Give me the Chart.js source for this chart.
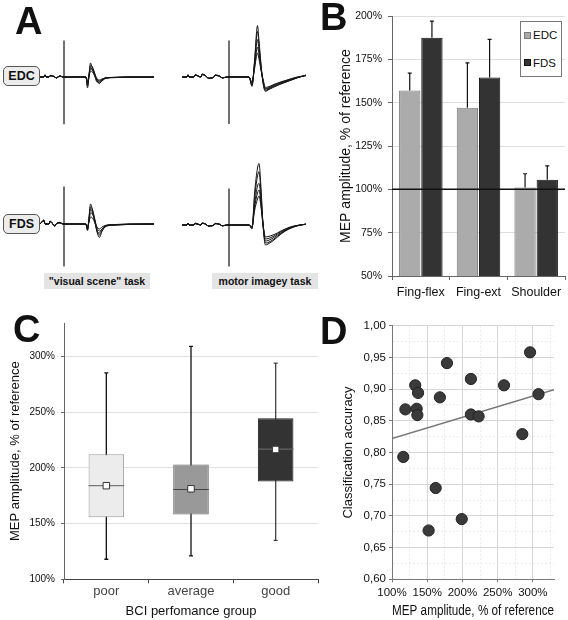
<!DOCTYPE html>
<html>
<head>
<meta charset="utf-8">
<title>MEP amplitude and BCI performance</title>
<script src="https://cdn.jsdelivr.net/npm/chart.js@4.4.1/dist/chart.umd.min.js"></script>
<style>
body { margin: 0; background: #fff; font-family: 'Liberation Sans', Arial, sans-serif; color: #111; }
#fig { position: relative; width: 568px; height: 620px; overflow: hidden; }
#fig canvas { position: absolute; }
.letter { position: absolute; font-weight: bold; font-size: 38px; line-height: 1; }
.muscle { position: absolute; left: 3px; width: 35px; height: 18px; border: 1px solid #555; border-radius: 5px;
  background: #ececec; font-weight: bold; font-size: 12.5px; display: flex; align-items: center; justify-content: center; }
.task { position: absolute; top: 273px; height: 16px; background: #e4e4e4; font-weight: bold; font-size: 10.5px;
  display: flex; align-items: center; justify-content: center; }
.leg { position: absolute; font-size: 11.5px; line-height: 14px; }
.sw { position: absolute; width: 5px; height: 5px; }
</style>
</head>
<body>
<div id="fig">
  <canvas id="edcVis" width="140" height="140" style="left:14px;top:7px"></canvas>
  <canvas id="edcMot" width="140" height="140" style="left:179px;top:7px"></canvas>
  <canvas id="fdsVis" width="140" height="140" style="left:14px;top:154px"></canvas>
  <canvas id="fdsMot" width="140" height="140" style="left:179px;top:155px"></canvas>
  <canvas id="chartB" width="278" height="310" style="left:290px;top:0px"></canvas>
  <canvas id="chartC" width="330" height="310" style="left:0px;top:310px"></canvas>
  <canvas id="chartD" width="278" height="310" style="left:290px;top:310px"></canvas>

  <div class="letter" style="left:15px;top:2px">A</div>
  <div class="letter" style="left:320px;top:-2px">B</div>
  <div class="letter" style="left:13px;top:310px">C</div>
  <div class="letter" style="left:320px;top:312px">D</div>

  <div class="muscle" style="top:66px">EDC</div>
  <div class="muscle" style="top:214px">FDS</div>
  <div class="task" style="left:44px;width:106px">"visual scene" task</div>
  <div class="task" style="left:212px;width:106px">motor imagey task</div>

  <div style="position:absolute;left:520px;top:21px;width:40px;height:54px;border:1px solid #777;background:#fff"></div>
  <div class="sw" style="left:524px;top:32px;background:#aaa;border:1px solid #777"></div>
  <div class="leg" style="left:533px;top:28px">EDC</div>
  <div class="sw" style="left:524px;top:59px;background:#333;border:1px solid #111"></div>
  <div class="leg" style="left:533px;top:56px">FDS</div>
</div>
<script>
// ---- panel A: overlaid MEP sweeps, time in ms from the TMS pulse, amplitude in mV
var tVisual = [-24, -20, -19, -18, -15, -14, -9, -8, -4, -1, 20, 22, 23.5, 25, 26.5, 28.5, 31, 33, 35.5, 38, 42, 50, 65, 92];
var edcVisual = [
  [0, 0, 0.12, 0, 0, 0.08, 0, -0.06, 0.06, 0, 0, 0, -0.55, 0.1, 0.7, 0.4, 0.05, -0.2, -0.33, -0.15, -0.05, -0.03, -0.01, 0],
  [0, 0, 0.1, 0, 0, 0.06, 0, -0.05, 0.05, 0, 0, 0, -0.45, 0.05, 0.6, 0.5, 0.15, -0.15, -0.3, -0.2, -0.06, -0.03, -0.01, 0],
  [0, 0, 0.08, 0, 0, 0.08, 0, -0.04, 0.05, 0, 0, -0.05, -0.3, 0.15, 0.5, 0.35, 0, -0.25, -0.25, -0.12, -0.04, -0.02, 0, 0],
  [0, 0, 0.1, 0, 0, 0.05, 0, -0.05, 0.04, 0, 0, 0, -0.4, 0, 0.4, 0.4, 0.1, -0.1, -0.2, -0.15, -0.05, -0.02, 0, 0],
  [0, 0, 0.08, 0, 0, 0.06, 0, -0.04, 0.05, 0, 0, 0, -0.2, 0.05, 0.3, 0.25, 0.05, -0.1, -0.15, -0.1, -0.04, -0.02, 0, 0]
];
var fdsVisual = [
  [0, 0.2, 0, 0, 0, 0.15, -0.12, 0, 0.08, 0, 0, 0, -0.33, 0.35, 1.0, 0.7, 0.1, -0.4, -0.67, -0.35, -0.12, -0.06, -0.02, 0],
  [0, 0.18, 0, 0, 0, 0.14, -0.1, 0, 0.06, 0, 0, 0, -0.25, 0.3, 0.85, 0.7, 0.2, -0.3, -0.55, -0.35, -0.1, -0.05, -0.02, 0],
  [0, 0.16, 0, 0, 0, 0.12, -0.08, 0, 0.08, 0, 0, -0.05, -0.3, 0.2, 0.75, 0.55, 0.05, -0.35, -0.45, -0.25, -0.08, -0.04, -0.01, 0],
  [0, 0.2, 0, 0, 0, 0.15, -0.1, 0, 0.06, 0, 0, 0, -0.2, 0.15, 0.55, 0.5, 0.15, -0.2, -0.35, -0.25, -0.08, -0.04, -0.01, 0],
  [0, 0.16, 0, 0, 0, 0.12, -0.08, 0, 0.05, 0, 0, 0, -0.15, 0.1, 0.35, 0.3, 0.05, -0.15, -0.25, -0.15, -0.06, -0.03, 0, 0]
];
var tMotor = [-47, -42, -41, -40, -35, -34, -28, -27, -22, -21, -15, -14, -8, -7, -2, 18, 20, 23, 25.5, 28.5, 30, 32, 34, 36.5, 39, 45, 52, 60, 68, 77];
var edcMotor = [
  [0, 0, 0.12, 0, 0, 0.1, 0, 0.15, 0, -0.08, 0, 0.1, 0, -0.06, 0, 0, 0, -0.47, 0.8, 2.57, 1.8, 0.65, -0.3, -0.72, -0.65, -0.5, -0.35, -0.2, -0.05, 0.1],
  [0, 0, 0.1, 0, 0, 0.12, 0, 0.12, 0, -0.06, 0, 0.08, 0, -0.05, 0, 0, 0, -0.42, 0.7, 2.28, 1.6, 0.55, -0.25, -0.68, -0.62, -0.47, -0.32, -0.18, -0.04, 0.1],
  [0, 0, 0.1, 0, 0, 0.1, 0, 0.14, 0, -0.07, 0, 0.1, 0, -0.05, 0, 0, 0, -0.35, 0.6, 1.87, 1.35, 0.45, -0.2, -0.62, -0.58, -0.43, -0.3, -0.16, -0.03, 0.08],
  [0, 0, 0.11, 0, 0, 0.09, 0, 0.13, 0, -0.06, 0, 0.09, 0, -0.04, 0, 0, 0, -0.3, 0.5, 1.5, 1.1, 0.4, -0.15, -0.58, -0.55, -0.4, -0.27, -0.14, -0.02, 0.08],
  [0, 0, 0.1, 0, 0, 0.1, 0, 0.12, 0, -0.05, 0, 0.08, 0, -0.05, 0, 0, 0, -0.25, 0.4, 1.2, 0.9, 0.35, -0.1, -0.52, -0.5, -0.37, -0.24, -0.12, 0, 0.06]
];
var fdsMotor = [
  [0, 0, 0.1, 0, 0, 0.08, 0, 0.1, 0, -0.05, 0, 0.08, 0, -0.05, 0, 0, 0, -0.2, 1.55, 2.85, 3.08, 1.85, 0, -1.0, -0.95, -0.75, -0.45, -0.2, -0.05, 0.05],
  [0, 0, 0.08, 0, 0, 0.1, 0, 0.08, 0, -0.06, 0, 0.07, 0, -0.04, 0, 0, 0, -0.15, 1.3, 2.45, 2.67, 1.6, 0.05, -0.9, -0.88, -0.7, -0.42, -0.18, -0.04, 0.05],
  [0, 0, 0.1, 0, 0, 0.07, 0, 0.1, 0, -0.05, 0, 0.08, 0, -0.05, 0, 0, 0, -0.1, 1.0, 1.95, 2.08, 1.3, 0.05, -0.8, -0.78, -0.62, -0.38, -0.16, -0.03, 0.04],
  [0, 0, 0.09, 0, 0, 0.08, 0, 0.09, 0, -0.05, 0, 0.07, 0, -0.04, 0, 0, 0, -0.12, 0.85, 1.6, 1.75, 1.05, 0, -0.7, -0.68, -0.55, -0.33, -0.14, -0.03, 0.04],
  [0, 0, 0.08, 0, 0, 0.07, 0, 0.08, 0, -0.04, 0, 0.06, 0, -0.04, 0, 0, 0, -0.08, 0.7, 1.3, 1.45, 0.9, 0.05, -0.6, -0.58, -0.48, -0.3, -0.12, -0.02, 0.03]
];
// stimulus artefact extent (mV) in each panel
var artEdcVis = [1.82, -2.36];
var artEdcMot = [1.83, -2.35];
var artFdsVis = [1.88, -2.12];
var artFdsMot = [1.83, -2.08];

// ---- panel B: MEP amplitude by task, % of reference
var tasks = ['Fing-flex', 'Fing-ext', 'Shoulder'];
var edcMean = [157, 147, 101];
var edcErr = [10, 26, 8];
var fdsMean = [187.5, 164.5, 105.5];
var fdsErr = [9.5, 22, 8];

// ---- panel C: box plots by BCI performance group
var groups = ['poor', 'average', 'good'];
var boxMin = [118, 121, 135];
var boxQ1 = [155.6, 158.2, 187.8];
var boxMedian = [184, 180.6, 216.8];
var boxQ3 = [212.3, 203, 244.6];
var boxMax = [285.3, 309, 294];
var boxMean = [184, 181.2, 216.5];

// ---- panel D: classification accuracy vs MEP amplitude
var mepAmp = [116, 119, 133, 137, 135, 136, 168, 178, 212, 212, 223, 259, 285, 296, 308, 162, 152, 199];
var accuracy = [0.793, 0.868, 0.906, 0.894, 0.869, 0.859, 0.887, 0.941, 0.916, 0.860, 0.857, 0.906, 0.829, 0.958, 0.892, 0.744, 0.677, 0.695];
var fitX = [100, 330];
var fitY = [0.822, 0.899];

Chart.defaults.font.family = "'Liberation Sans', Arial, sans-serif";
Chart.defaults.color = '#111';
Chart.defaults.animation = false;
Chart.defaults.events = [];
Chart.defaults.plugins.legend.display = false;
Chart.defaults.plugins.tooltip.enabled = false;

function traceChart(id, times, sweeps, artefact) {
  var sets = sweeps.map(function (amp) {
    return {
      data: amp.map(function (v, i) { return { x: times[i], y: v }; }),
      borderColor: '#161616', borderWidth: 1, pointRadius: 0, cubicInterpolationMode: 'monotone'
    };
  });
  sets.push({ data: [{ x: 0, y: artefact[0] }, { x: 0, y: artefact[1] }], borderColor: '#444', borderWidth: 1.5, pointRadius: 0 });
  new Chart(document.getElementById(id), {
    type: 'line',
    data: { datasets: sets },
    options: {
      responsive: false,
      layout: { padding: 0 },
      scales: {
        x: { type: 'linear', display: false, min: -50, max: 90 },
        y: { display: false, min: -3.5, max: 3.5 }
      }
    }
  });
}
traceChart('edcVis', tVisual, edcVisual, artEdcVis);
traceChart('edcMot', tMotor, edcMotor, artEdcMot);
traceChart('fdsVis', tVisual, fdsVisual, artFdsVis);
traceChart('fdsMot', tMotor, fdsMotor, artFdsMot);

// error bars + 100% reference line for panel B
var errorBars = {
  id: 'errorBars',
  afterDatasetsDraw: function (chart) {
    var ctx = chart.ctx, y = chart.scales.y, area = chart.chartArea;
    ctx.save();
    ctx.strokeStyle = '#111';
    ctx.lineWidth = 1.2;
    chart.data.datasets.forEach(function (ds, i) {
      chart.getDatasetMeta(i).data.forEach(function (bar, j) {
        var top = y.getPixelForValue(ds.data[j] + ds.errors[j]);
        ctx.beginPath();
        ctx.moveTo(bar.x, bar.y);
        ctx.lineTo(bar.x, top);
        ctx.moveTo(bar.x - 2, top);
        ctx.lineTo(bar.x + 2, top);
        ctx.stroke();
      });
    });
    var ref = y.getPixelForValue(100);
    ctx.lineWidth = 1.5;
    ctx.beginPath();
    ctx.moveTo(area.left, ref);
    ctx.lineTo(area.right, ref);
    ctx.stroke();
    ctx.restore();
  }
};

new Chart(document.getElementById('chartB'), {
  type: 'bar',
  data: {
    labels: tasks,
    datasets: [
      { label: 'EDC', data: edcMean, errors: edcErr, backgroundColor: '#ababab', borderColor: '#7a7a7a', borderWidth: 1 },
      { label: 'FDS', data: fdsMean, errors: fdsErr, backgroundColor: '#333', borderColor: '#111', borderWidth: 1 }
    ]
  },
  options: {
    responsive: false,
    categoryPercentage: 0.77,
    barPercentage: 0.96,
    layout: { padding: { left: 0, top: 16, right: 3, bottom: 0 } },
    scales: {
      x: {
        grid: { offset: true, drawOnChartArea: false, tickLength: 4, tickColor: '#666' },
        border: { color: '#666' },
        ticks: { font: { size: 12.5 }, padding: 5.5 },
        afterFit: function (s) { s.height = 34; }
      },
      y: {
        min: 50, max: 200,
        ticks: { stepSize: 25, font: { size: 10.5 }, padding: 6, callback: function (v) { return v + '%'; } },
        grid: { color: '#dedede', tickLength: 4, tickColor: '#666' },
        border: { color: '#666' },
        title: { display: true, text: 'MEP amplitude, % of reference', font: { size: 14 }, padding: { top: 48, bottom: 0 } },
        afterFit: function (s) { s.width = 102; }
      }
    }
  },
  plugins: [errorBars]
});

// whiskers and medians for panel C
var whiskerColor = ['#111', '#111', '#444'];
var medianColor = ['#777', '#444', '#666'];
var boxParts = {
  id: 'boxParts',
  beforeDatasetsDraw: function (chart) {
    var ctx = chart.ctx, y = chart.scales.y;
    ctx.save();
    ctx.lineWidth = 1.3;
    chart.getDatasetMeta(0).data.forEach(function (bar, i) {
      var top = y.getPixelForValue(boxMax[i]), bottom = y.getPixelForValue(boxMin[i]);
      ctx.strokeStyle = whiskerColor[i];
      ctx.beginPath();
      ctx.moveTo(bar.x, top);
      ctx.lineTo(bar.x, bottom);
      ctx.moveTo(bar.x - 2, top);
      ctx.lineTo(bar.x + 2, top);
      ctx.moveTo(bar.x - 2, bottom);
      ctx.lineTo(bar.x + 2, bottom);
      ctx.stroke();
    });
    ctx.restore();
  },
  afterDatasetDraw: function (chart, args) {
    if (args.index !== 0) return;
    var ctx = chart.ctx, y = chart.scales.y;
    ctx.save();
    ctx.lineWidth = 1.2;
    chart.getDatasetMeta(0).data.forEach(function (bar, i) {
      var m = y.getPixelForValue(boxMedian[i]);
      ctx.strokeStyle = medianColor[i];
      ctx.beginPath();
      ctx.moveTo(bar.x - bar.width / 2, m);
      ctx.lineTo(bar.x + bar.width / 2, m);
      ctx.stroke();
    });
    ctx.restore();
  }
};

new Chart(document.getElementById('chartC'), {
  type: 'bar',
  data: {
    labels: groups,
    datasets: [
      {
        data: groups.map(function (g, i) { return [boxQ1[i], boxQ3[i]]; }),
        backgroundColor: ['#ececec', '#999', '#333'],
        borderColor: ['#999', '#666', '#222'],
        borderWidth: 1, borderSkipped: false,
        barPercentage: 0.42, categoryPercentage: 1, order: 1
      },
      {
        type: 'line', data: boxMean, showLine: false, pointStyle: 'rect', pointRadius: 4.6,
        pointBackgroundColor: '#fff', pointBorderColor: '#333', pointBorderWidth: 1, order: 0
      }
    ]
  },
  options: {
    responsive: false,
    layout: { padding: { left: 0, top: 13, right: 12, bottom: 0 } },
    scales: {
      x: {
        grid: { offset: true, drawOnChartArea: false, tickLength: 4, tickColor: '#444' },
        border: { color: '#444' },
        ticks: { font: { size: 13 }, color: '#444', padding: 0 },
        title: { display: true, text: 'BCI perfomance group', font: { size: 13 }, padding: { top: 0, bottom: 0.5 } },
        afterFit: function (s) { s.height = 40.7; }
      },
      y: {
        min: 100, max: 330,
        ticks: { stepSize: 50, includeBounds: false, font: { size: 10 }, padding: 6, callback: function (v) { return v + '%'; } },
        grid: { color: '#e0e0e0', tickLength: 3, tickColor: '#666' },
        border: { color: '#666' },
        title: { display: true, text: 'MEP amplitude, % of reference', font: { size: 13 }, padding: { top: 7.9, bottom: 0 } },
        afterFit: function (s) { s.width = 64; }
      }
    }
  },
  plugins: [boxParts]
});

// panel D: major grid solid, minor grid dotted
function isMajor(v, step) { return Math.round(v * 1000) % step === 0; }
new Chart(document.getElementById('chartD'), {
  type: 'scatter',
  data: {
    datasets: [
      {
        type: 'line', data: fitX.map(function (x, i) { return { x: x, y: fitY[i] }; }),
        borderColor: '#777', borderWidth: 1.5, pointRadius: 0, order: 2
      },
      {
        data: mepAmp.map(function (x, i) { return { x: x, y: accuracy[i] }; }),
        pointRadius: 5.6, backgroundColor: '#3a3a3a', borderColor: '#222', borderWidth: 1, order: 1
      }
    ]
  },
  options: {
    responsive: false,
    layout: { padding: { left: 0, top: 15.7, right: 14, bottom: 0 } },
    scales: {
      x: {
        type: 'linear', min: 100, max: 330,
        ticks: {
          stepSize: 25, includeBounds: false, autoSkip: false, maxRotation: 0, font: { size: 11.5 }, padding: 3.5,
          callback: function (v) { return isMajor(v, 50000) ? v + '%' : ''; }
        },
        grid: {
          tickLength: 3,
          color: function (c) { return c.tick && isMajor(c.tick.value, 50000) ? '#d6d6d6' : '#ececec'; },
          tickColor: function (c) { return c.tick && isMajor(c.tick.value, 50000) ? '#777' : 'rgba(0,0,0,0)'; }
        },
        border: { color: '#777', dash: function (c) { return c.tick && !isMajor(c.tick.value, 50000) ? [2, 2] : []; } },
        title: { display: true, text: 'MEP amplitude, % of reference', font: { size: 14 }, padding: { top: 0, bottom: 0 } },
        afterFit: function (s) { s.height = 40.7; }
      },
      y: {
        min: 0.6, max: 1.0,
        ticks: {
          stepSize: 0.025, autoSkip: false, font: { size: 11.5 }, padding: 3,
          callback: function (v) { return isMajor(v, 50) ? v.toFixed(2).replace('.', ',') : ''; }
        },
        grid: {
          tickLength: 3,
          color: function (c) { return c.tick && isMajor(c.tick.value, 50) ? '#d6d6d6' : '#ececec'; },
          tickColor: function (c) { return c.tick && isMajor(c.tick.value, 50) ? '#777' : 'rgba(0,0,0,0)'; }
        },
        border: { color: '#777', dash: function (c) { return c.tick && !isMajor(c.tick.value, 50) ? [2, 2] : []; } },
        title: { display: true, text: 'Classification accuracy', font: { size: 13 }, padding: { top: 50.5, bottom: 0 } },
        afterFit: function (s) { s.width = 102; }
      }
    }
  }
});
</script>
</body>
</html>
